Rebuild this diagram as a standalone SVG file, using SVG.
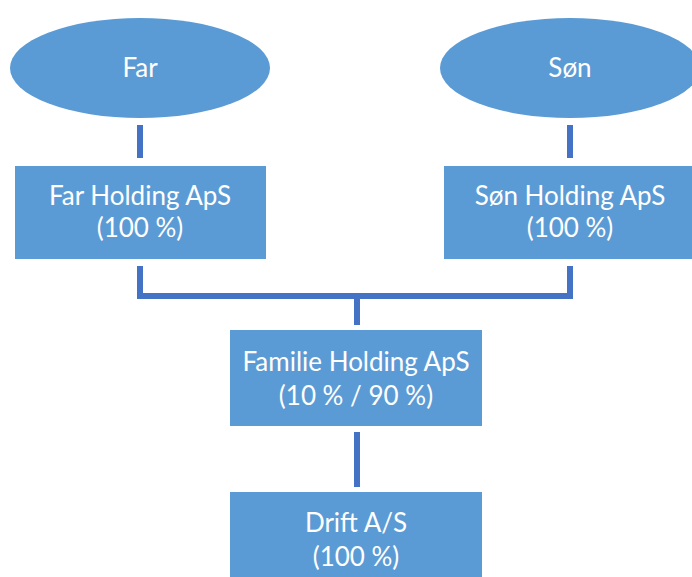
<svg xmlns="http://www.w3.org/2000/svg" width="692" height="577" viewBox="0 0 692 577">
  <style>
    .shape { fill: #5B9BD5; }
    .label { fill: #FFFFFF; font-family: Lato, "Open Sans", "Liberation Sans", sans-serif; font-size: 26px; text-anchor: middle; }
    .link { fill: none; stroke: #4472C4; stroke-width: 6; }
  </style>
  <rect width="692" height="577" fill="#FFFFFF"/>

  <!-- connectors -->
  <g id="connectors">
    <line class="link" x1="140" y1="125" x2="140" y2="158"/>
    <line class="link" x1="570" y1="125" x2="570" y2="158"/>
    <polyline class="link" points="140,266 140,296 570,296 570,266"/>
    <line class="link" x1="357" y1="296" x2="357" y2="325"/>
    <line class="link" x1="357" y1="432" x2="357" y2="487"/>
  </g>

  <g id="far">
    <ellipse class="shape" cx="140" cy="68" rx="130" ry="50"/>
    <text class="label" x="140" y="77">Far</text>
  </g>

  <g id="son">
    <ellipse class="shape" cx="570" cy="68" rx="130" ry="50"/>
    <text class="label" x="570" y="77">Søn</text>
  </g>

  <g id="far-holding">
    <rect class="shape" x="15" y="166" width="251" height="93"/>
    <text class="label" x="140" y="205">Far Holding ApS</text>
    <text class="label" x="140" y="237">(100 %)</text>
  </g>

  <g id="son-holding">
    <rect class="shape" x="444" y="166" width="251" height="93"/>
    <text class="label" x="570" y="205">Søn Holding ApS</text>
    <text class="label" x="570" y="237">(100 %)</text>
  </g>

  <g id="familie-holding">
    <rect class="shape" x="230" y="330" width="252" height="96"/>
    <text class="label" x="356" y="371">Familie Holding ApS</text>
    <text class="label" x="356" y="405">(10 % / 90 %)</text>
  </g>

  <g id="drift">
    <rect class="shape" x="230" y="492" width="252" height="90"/>
    <text class="label" x="356" y="532">Drift A/S</text>
    <text class="label" x="356" y="566">(100 %)</text>
  </g>
</svg>
